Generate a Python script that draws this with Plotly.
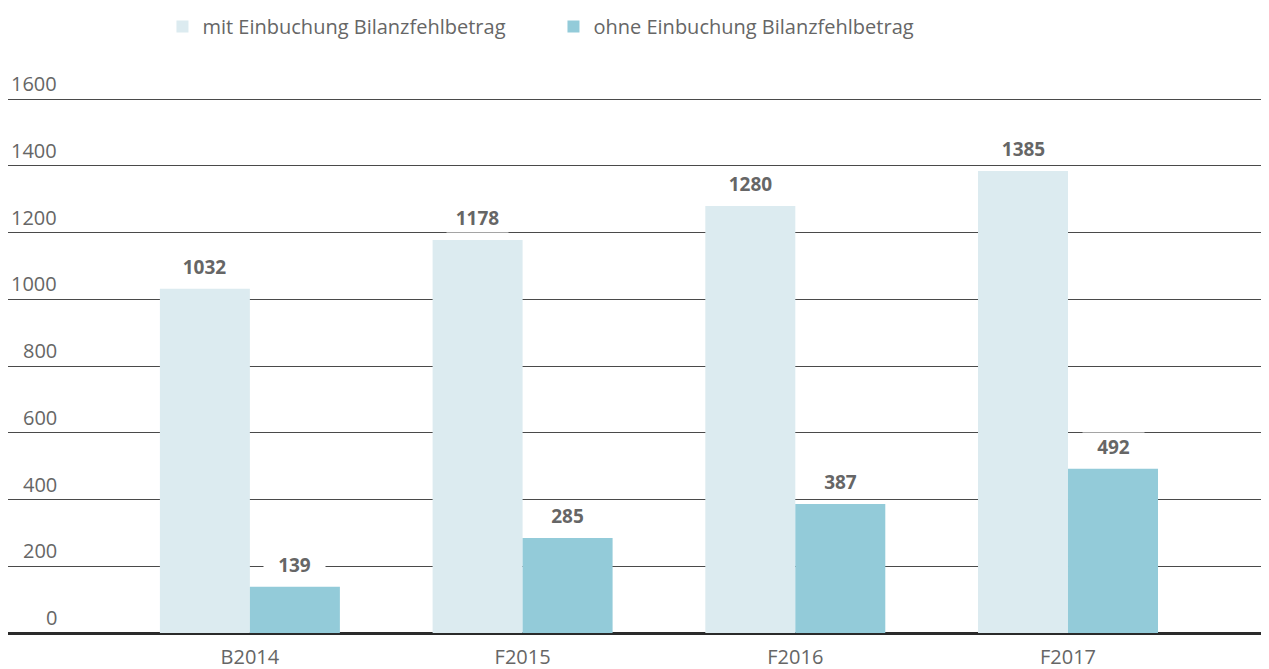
import plotly.graph_objects as go

categories = ["B2014", "F2015", "F2016", "F2017"]
mit_values = [1032, 1178, 1280, 1385]
ohne_values = [139, 285, 387, 492]
y_ticks = [0, 200, 400, 600, 800, 1000, 1200, 1400, 1600]
series_names = ["mit Einbuchung Bilanzfehlbetrag", "ohne Einbuchung Bilanzfehlbetrag"]

FONT = "Open Sans"
GRAY = "#666666"
LIGHT = "#dcebf0"
DARK = "#93cbd9"

fig = go.Figure()
fig.add_trace(go.Bar(x=categories, y=mit_values, name=series_names[0],
                     marker=dict(color=LIGHT, line=dict(width=0))))
fig.add_trace(go.Bar(x=categories, y=ohne_values, name=series_names[1],
                     marker=dict(color=DARK, line=dict(width=0))))

annotations = []
for vals, shift in ((mit_values, -45), (ohne_values, 45)):
    for c, v in zip(categories, vals):
        annotations.append(dict(
            x=c, y=v, xref="x", yref="y", xshift=shift, yshift=7,
            yanchor="bottom", xanchor="center", showarrow=False,
            text=f"<b>{v}</b>", font=dict(family=FONT, size=19, color=GRAY),
            bgcolor="white", borderpad=0, width=61, height=28))

for t in y_ticks:
    annotations.append(dict(
        x=0.0405, y=t, xref="paper", yref="y", xanchor="right", yanchor="bottom",
        yshift=0, showarrow=False, text=str(t),
        font=dict(family=FONT, size=20, color=GRAY)))

fig.update_layout(
    width=1261, height=661,
    margin=dict(l=0, r=0, t=89, b=36, autoexpand=False),
    paper_bgcolor="white", plot_bgcolor="white",
    barmode="group", bargap=0.34, bargroupgap=0,
    font=dict(family=FONT, size=20, color=GRAY),
    legend=dict(orientation="h", x=0.1225, y=0.972, xanchor="left", yanchor="middle",
                xref="paper", yref="container",
                font=dict(family=FONT, size=20, color=GRAY),
                entrywidth=346, entrywidthmode="pixels"),
    xaxis=dict(range=[-0.887, 3.737], showgrid=False, showline=False, ticks="",
               ticklabelstandoff=10, automargin=False,
               tickfont=dict(family=FONT, size=20, color=GRAY)),
    yaxis=dict(range=[0, 1606.7], tickvals=y_ticks, showticklabels=False,
               showgrid=True, gridcolor="#4a4a4a", gridwidth=1, automargin=False,
               zeroline=True, zerolinecolor="#2a2a2a", zerolinewidth=2.5,
               showline=False, ticks=""),
    annotations=annotations,
)

fig.write_html("out.html")
